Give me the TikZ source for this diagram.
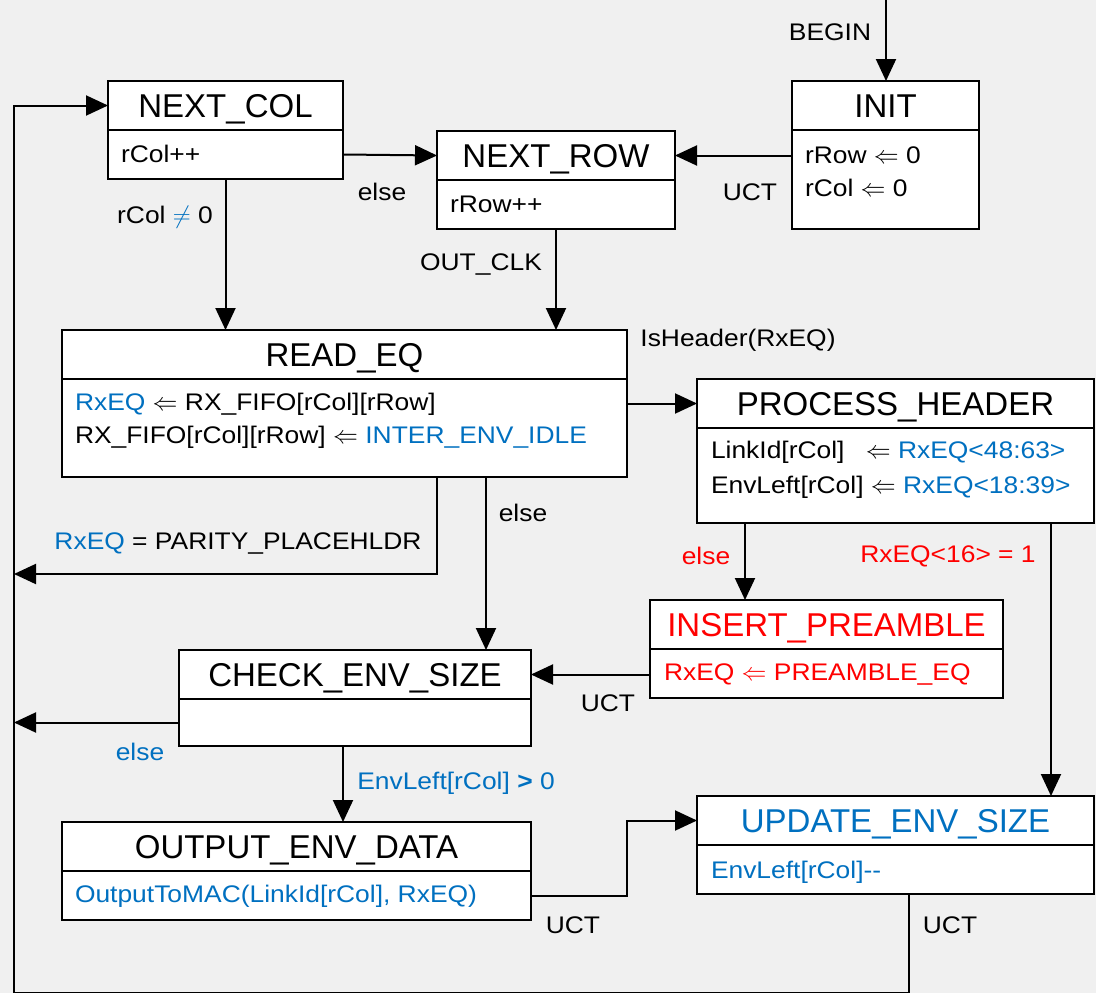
\documentclass[tikz,border=0pt]{standalone}
\usepackage{fontspec}
\setmainfont{Liberation Sans}
% small text is set a little wider than the regular face
\newfontfamily\widesans[FakeStretch=1.1]{Liberation Sans}
\usetikzlibrary{arrows.meta,calc}
\definecolor{bg}{HTML}{F0F0F0}
\definecolor{cblue}{HTML}{0070C0}
\definecolor{cred}{HTML}{FF0000}

% one state: title part (#1) above a body part (#1-b)
\newcommand{\mkstate}[6]{%
  \node[head, minimum width=#4pt] (#1) at (#2,#3) {#6};
  \node[bodypart, minimum width=#4pt, minimum height=#5pt] (#1-b) at (#1.south west) {};
}

\begin{document}
\begin{tikzpicture}[x=1pt,y=-1pt,
  every node/.style={inner sep=0pt, outer sep=0pt},
  txt/.style={font=\widesans\fontsize{24}{30}\selectfont},
  head/.style={draw, line width=2pt, fill=white, anchor=north west,
    minimum height=49pt, text height=24pt, text depth=0pt,
    font=\fontsize{33}{40}\selectfont},
  bodypart/.style={draw, line width=2pt, fill=white, anchor=north west},
  line1/.style={txt, anchor=base west},
  wire/.style={line width=2pt},
  arr/.style={wire, -{Triangle[length=22pt, width=20pt]}},
]
\fill[bg] (0,0) rectangle (1096,993);
\useasboundingbox (0,0) rectangle (1096,993);

% ---- states ----
\mkstate{nc}{108}{81}{235}{49}{NEXT\_COL}
\mkstate{nr}{437}{131}{238}{49}{NEXT\_ROW}
\mkstate{init}{792}{81}{187}{99}{INIT}
\mkstate{rd}{62}{330}{565}{98}{READ\_EQ}
\mkstate{ph}{697}{379}{397}{95}{PROCESS\_HEADER}
\mkstate{ins}{650}{600}{353}{49}{\color{cred}INSERT\_PREAMBLE}
\mkstate{ck}{179}{650}{352}{47}{CHECK\_ENV\_SIZE}
\mkstate{out}{62}{822}{469}{49}{OUTPUT\_ENV\_DATA}
\mkstate{up}{697}{796}{397}{49}{\color{cblue}UPDATE\_ENV\_SIZE}

% ---- state actions ----
\node[line1] (nc-l1) at ($(nc-b.north west)+(13,32)$) {rCol++};
\node[line1] (nr-l1) at ($(nr-b.north west)+(13,32)$) {rRow++};
\node[line1] (init-l1) at ($(init-b.north west)+(13,33)$) {rRow $\Leftarrow$ 0};
\node[line1] (init-l2) at ($(init-b.north west)+(13,66)$) {rCol $\Leftarrow$ 0};
\node[line1] (rd-l1) at ($(rd-b.north west)+(13,31)$) {{\color{cblue}RxEQ} $\Leftarrow$ RX\_FIFO[rCol][rRow]};
\node[line1] (rd-l2) at ($(rd-b.north west)+(13,64)$) {RX\_FIFO[rCol][rRow] $\Leftarrow$ {\color{cblue}INTER\_ENV\_IDLE}};
\node[line1] (ph-l1) at ($(ph-b.north west)+(14,30)$) {LinkId[rCol]\hspace{14pt} $\Leftarrow$ {\color{cblue}RxEQ<48:63>}};
\node[line1] (ph-l2) at ($(ph-b.north west)+(14,65)$) {EnvLeft[rCol] $\Leftarrow$ {\color{cblue}RxEQ<18:39>}};
\node[line1, text=cred] (ins-l1) at ($(ins-b.north west)+(14,31)$) {RxEQ $\Leftarrow$ PREAMBLE\_EQ};
\node[line1, text=cblue] (out-l1) at ($(out-b.north west)+(13,31)$) {OutputToMAC(LinkId[rCol], RxEQ)};
\node[line1, text=cblue] (up-l1) at ($(up-b.north west)+(14,33)$) {EnvLeft[rCol]-{}-};

% ---- transitions ----
\coordinate (begin) at (886,0);
\coordinate (bot) at (14,993);
\draw[arr] (begin) -- (begin |- init.north);
\draw[arr] (nr.east -| init-b.west) -- (nr.east);
\draw[arr] (nc-b.east) -- (nr.west);
\draw[arr] (nc-b.south) -- (nc-b.south |- rd.north);
\draw[arr] (nr-b.south) -- (nr-b.south |- rd.north);
\draw[arr] (ph.west -| rd-b.east) -- (ph.west);
\draw[arr] ($(rd-b.south west)+(375,0)$) coordinate (p1) -- (p1 |- 0,574) -- (bot |- 0,574);
\draw[arr] ($(rd-b.south west)+(424,0)$) coordinate (e1) -- (e1 |- ck.north);
\draw[arr] ($(ph-b.south west)+(48,0)$) coordinate (e2) -- (e2 |- ins.north);
\draw[arr] ($(ph-b.south west)+(354,0)$) coordinate (e3) -- (e3 |- up.north);
\draw[arr] (ck.east -| ins-b.west) -- (ck.east);
\draw[arr] (ck-b.west) -- (ck-b.west -| bot);
\draw[arr] ($(ck-b.south west)+(164,0)$) coordinate (e4) -- (e4 |- out.north);
\draw[arr] (out-b.east) -- ++(96,0) coordinate (e6) -- (e6 |- up.west) -- (up.west);
\draw[arr] ($(up-b.south west)+(212,0)$) coordinate (e5) -- (e5 |- bot) -- (bot) -- (nc.west -| bot) -- (nc.west);

% ---- transition labels ----
\node[txt] (lb-begin) at (830,32) {BEGIN};
\node[txt] (lb-uct1) at (750,192) {UCT};
\node[txt] (lb-else1) at (382,192) {else};
\node[txt] (lb-rcol) at (165,217) {rCol {\color{cblue}$\neq$} 0};
\node[txt] (lb-outclk) at (481,265) {OUT\_CLK};
\node[txt] (lb-ishdr) at (738,340) {IsHeader(RxEQ)};
\node[txt] (lb-parity) at (238,544) {{\color{cblue}RxEQ} = PARITY\_PLACEHLDR};
\node[txt] (lb-else2) at (523,513) {else};
\node[txt, text=cred] (lb-else3) at (706,556) {else};
\node[txt, text=cred] (lb-bit16) at (948,556) {RxEQ<16> = 1};
\node[txt] (lb-uct2) at (608,703) {UCT};
\node[txt, text=cblue] (lb-else4) at (140,752) {else};
\node[txt, text=cblue] (lb-envleft) at (456,783) {EnvLeft[rCol] \textbf{>} 0};
\node[txt] (lb-uct3) at (573,925) {UCT};
\node[txt] (lb-uct4) at (950,925) {UCT};
\end{tikzpicture}
\end{document}
